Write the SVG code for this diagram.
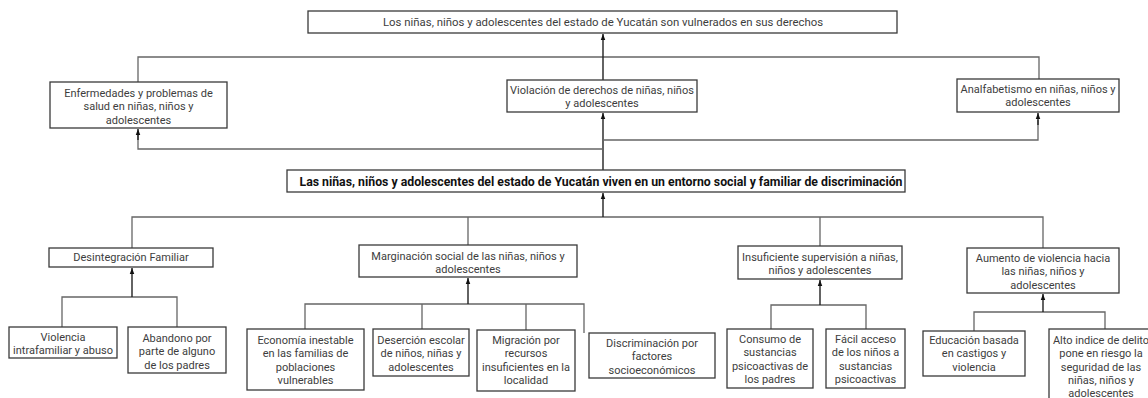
<svg xmlns="http://www.w3.org/2000/svg" width="1148" height="398" viewBox="0 0 1148 398">
<style>
.box{fill:#fff;stroke:#3a3a3a;stroke-width:1.3}
.t{font-family:Roboto,"Liberation Sans",sans-serif;font-size:11px;fill:#3d3d3d;text-anchor:middle}
.tb{font-family:Roboto,"Liberation Sans",sans-serif;font-size:12px;font-weight:bold;fill:#111;text-anchor:middle}
.ln{fill:none;stroke:#666;stroke-width:1.3}
.ar{fill:none;stroke:#222;stroke-width:1.4;marker-end:url(#ah)}
</style>
<defs>
<marker id="ah" viewBox="0 0 8 8" refX="8" refY="4" markerWidth="6" markerHeight="6" markerUnits="userSpaceOnUse" orient="auto">
<path d="M0,1 L8,4 L0,7 z" fill="#111"/>
</marker>
</defs>
<rect width="1148" height="398" fill="#fff"/>
<g id="connectors">
<path class="ln" d="M138,82 V57 H1039 V79"/>
<path class="ar" d="M603,80 V34"/>
<path class="ar" d="M603,170 V113"/>
<path class="ln" d="M603,140 H1038 V120"/>
<path class="ar" d="M1038,125 V113"/>
<path class="ln" d="M603,149 H138 V135"/>
<path class="ar" d="M138,140 V129"/>
<path class="ln" d="M132,248 V217 H1043 V248 M468,217 V245 M820,217 V246"/>
<path class="ar" d="M603,217 V193"/>
<path class="ln" d="M62,327 V297 H177 V327"/>
<path class="ar" d="M132,297 V268"/>
<path class="ln" d="M305,329 V304 H584 V333 M422,304 V329 M526,304 V330"/>
<path class="ar" d="M468,304 V278"/>
<path class="ln" d="M771,329 V305 H866 V329"/>
<path class="ar" d="M820,305 V280"/>
<path class="ln" d="M974,331 V312 H1105 V329"/>
<path class="ar" d="M1043,312 V294"/>
</g>
<g id="n-top">
<rect class="box" x="308" y="11" width="589" height="22"/>
<text class="t" x="603" y="26" textLength="440" lengthAdjust="spacingAndGlyphs" style="font-size:11.5px">Los niñas, niños y adolescentes del estado de Yucatán son vulnerados en sus derechos</text>
</g>
<g id="n-enfermedades">
<rect class="box" x="50" y="82" width="177" height="46"/>
<text class="t" x="138.5" y="97">Enfermedades y problemas de<tspan x="138.5" dy="13.3">salud en niñas, niños y</tspan><tspan x="138.5" dy="13.3">adolescentes</tspan></text>
</g>
<g id="n-violacion">
<rect class="box" x="507" y="80" width="190" height="32"/>
<text class="t" x="602" y="94">Violación de derechos de niñas, niños<tspan x="602" dy="13.3">y adolescentes</tspan></text>
</g>
<g id="n-analfabetismo">
<rect class="box" x="957" y="79" width="162" height="33"/>
<text class="t" x="1038" y="93">Analfabetismo en niñas, niños y<tspan x="1038" dy="13.3">adolescentes</tspan></text>
</g>
<g id="n-main">
<rect class="box" x="287" y="170" width="618" height="22"/>
<text class="tb" x="601" y="185.5" textLength="603" lengthAdjust="spacingAndGlyphs">Las niñas, niños y adolescentes del estado de Yucatán viven en un entorno social y familiar de discriminación</text>
</g>
<g id="n-desintegracion">
<rect class="box" x="49" y="248" width="164" height="19"/>
<text class="t" x="131" y="261">Desintegración Familiar</text>
</g>
<g id="n-violencia">
<rect class="box" x="9" y="327" width="108" height="31"/>
<text class="t" x="63" y="341">Violencia<tspan x="63" dy="13.3">intrafamiliar y abuso</tspan></text>
</g>
<g id="n-abandono">
<rect class="box" x="128" y="327" width="98" height="46"/>
<text class="t" x="177" y="342">Abandono por<tspan x="177" dy="13.3">parte de alguno</tspan><tspan x="177" dy="13.3">de los padres</tspan></text>
</g>
<g id="n-marginacion">
<rect class="box" x="359" y="245" width="218" height="32"/>
<text class="t" x="468" y="260">Marginación social de las niñas, niños y<tspan x="468" dy="13.3">adolescentes</tspan></text>
</g>
<g id="n-economia">
<rect class="box" x="247" y="329" width="117" height="61"/>
<text class="t" x="305.5" y="344">Economía inestable<tspan x="305.5" dy="13.3">en las familias de</tspan><tspan x="305.5" dy="13.3">poblaciones</tspan><tspan x="305.5" dy="13.3">vulnerables</tspan></text>
</g>
<g id="n-desercion">
<rect class="box" x="373" y="329" width="96" height="47"/>
<text class="t" x="421" y="344">Deserción escolar<tspan x="421" dy="13.3">de niños, niñas y</tspan><tspan x="421" dy="13.3">adolescentes</tspan></text>
</g>
<g id="n-migracion">
<rect class="box" x="477" y="330" width="98" height="61"/>
<text class="t" x="526" y="344">Migración por<tspan x="526" dy="13.3">recursos</tspan><tspan x="526" dy="13.3">insuficientes en la</tspan><tspan x="526" dy="13.3">localidad</tspan></text>
</g>
<g id="n-discriminacion">
<rect class="box" x="589" y="333" width="126" height="45"/>
<text class="t" x="652" y="347">Discriminación por<tspan x="652" dy="13.3">factores</tspan><tspan x="652" dy="13.3">socioeconómicos</tspan></text>
</g>
<g id="n-insuficiente">
<rect class="box" x="738" y="246" width="164" height="33"/>
<text class="t" x="820" y="261">Insuficiente supervisión a niñas,<tspan x="820" dy="13.3">niños y adolescentes</tspan></text>
</g>
<g id="n-consumo">
<rect class="box" x="727" y="329" width="86" height="59"/>
<text class="t" x="770" y="343">Consumo de<tspan x="770" dy="13.3">sustancias</tspan><tspan x="770" dy="13.3">psicoactivas de</tspan><tspan x="770" dy="13.3">los padres</tspan></text>
</g>
<g id="n-facil">
<rect class="box" x="826" y="329" width="79" height="59"/>
<text class="t" x="865.5" y="343">Fácil acceso<tspan x="865.5" dy="13.3">de los niños a</tspan><tspan x="865.5" dy="13.3">sustancias</tspan><tspan x="865.5" dy="13.3">psicoactivas</tspan></text>
</g>
<g id="n-aumento">
<rect class="box" x="967" y="248" width="152" height="45"/>
<text class="t" x="1043" y="262">Aumento de violencia hacia<tspan x="1043" dy="13.3">las niñas, niños y</tspan><tspan x="1043" dy="13.3">adolescentes</tspan></text>
</g>
<g id="n-educacion">
<rect class="box" x="923" y="331" width="102" height="45"/>
<text class="t" x="974" y="344">Educación basada<tspan x="974" dy="13.3">en castigos y</tspan><tspan x="974" dy="13.3">violencia</tspan></text>
</g>
<g id="n-alto">
<rect class="box" x="1049" y="329" width="104" height="75"/>
<text class="t" x="1101" y="344">Alto indice de delito<tspan x="1101" dy="13.3">pone en riesgo la</tspan><tspan x="1101" dy="13.3">seguridad de las</tspan><tspan x="1101" dy="13.3">niñas, niños y</tspan><tspan x="1101" dy="13.3">adolescentes</tspan></text>
</g>
</svg>
